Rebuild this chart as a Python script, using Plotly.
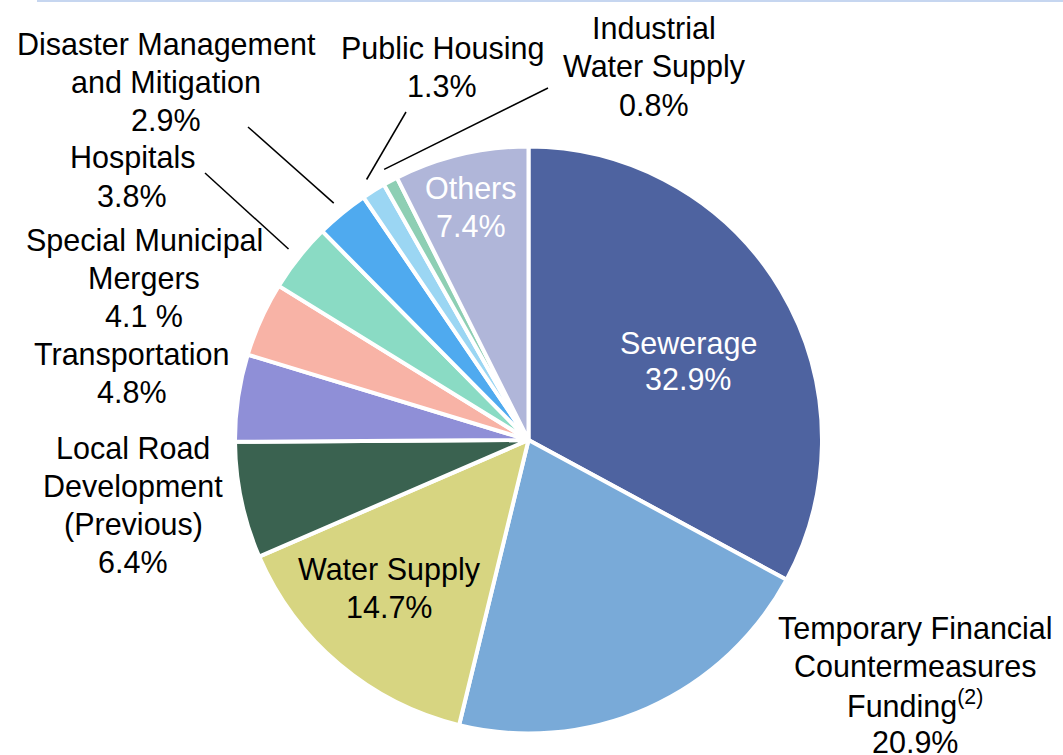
import math
import plotly.graph_objects as go

# ---- data ----
categories = [
    "Sewerage",
    "Temporary Financial Countermeasures Funding",
    "Water Supply",
    "Local Road Development (Previous)",
    "Transportation",
    "Special Municipal Mergers",
    "Hospitals",
    "Disaster Management and Mitigation",
    "Public Housing",
    "Industrial Water Supply",
    "Others",
]
values = [32.9, 20.9, 14.7, 6.4, 4.8, 4.1, 3.8, 2.9, 1.3, 0.8, 7.4]
label_lines = [
    ["Sewerage"],
    ["Temporary Financial", "Countermeasures", "Funding<sup>(2)</sup>"],
    ["Water Supply"],
    ["Local Road", "Development", "(Previous)"],
    ["Transportation"],
    ["Special Municipal", "Mergers"],
    ["Hospitals"],
    ["Disaster Management", "and Mitigation"],
    ["Public Housing"],
    ["Industrial", "Water Supply"],
    ["Others"],
]
pct_sep = ["", "", "", "", "", " ", "", "", "", "", ""]
colors = [
    "#4e63a0", "#79aad8", "#d7d581", "#3a6250", "#8f8fd7", "#f8b3a6",
    "#8adbc4", "#4faaef", "#9bd6f3", "#8ecfb4", "#b0b6d9",
]

# ---- layout geometry (pixels) ----
W, H = 1063, 755
CX, CY, R = 528.5, 440.0, 293.5
# label placement: (center x, first-line center y, line spacing, color, leader-anchor or None)
label_pos = [
    (688, 343, 36, "white", None),
    (915, 628, 38, "black", None),
    (389, 569, 38, "black", None),
    (133, 448, 38, "black", None),
    (132, 354, 38, "black", None),
    (144, 240, 38, "black", None),
    (132, 158, 38, "black", (205, 173)),
    (166, 45, 37.5, "black", (248, 127)),
    (442, 48, 38.5, "black", (406, 112)),
    (654, 28, 38.5, "black", (548, 88)),
    (471, 188, 37.5, "white", None),
]

def px(x):
    return x / W

def py(y):
    return 1 - y / H

fig = go.Figure(
    go.Pie(
        labels=categories,
        values=values,
        sort=False,
        direction="clockwise",
        rotation=0,
        marker=dict(colors=colors, line=dict(color="white", width=4)),
        textinfo="none",
        hoverinfo="label+percent",
        showlegend=False,
        domain=dict(x=[px(CX - R), px(CX + R)], y=[py(CY + R), py(CY - R)]),
    )
)

annotations = []
shapes = []
FONT = "Liberation Sans, Arial, sans-serif"
total = sum(values)
cum = 0.0
for i, v in enumerate(values):
    mid = (cum + v / 2) / total
    cum += v
    lx, ly, sp, col, anchor = label_pos[i]
    lines = label_lines[i] + [f"{v:.1f}{pct_sep[i]}%"]
    for k, t in enumerate(lines):
        annotations.append(dict(
            x=px(lx), y=py(ly + k * sp), xref="paper", yref="paper",
            text=t, showarrow=False, xanchor="center", yanchor="middle",
            font=dict(family=FONT, size=30.5, color=col),
        ))
    if anchor is not None:
        ang = 2 * math.pi * mid
        ex = CX + 1.045 * R * math.sin(ang)
        ey = CY - 1.045 * R * math.cos(ang)
        shapes.append(dict(
            type="line", xref="paper", yref="paper",
            x0=px(anchor[0]), y0=py(anchor[1]), x1=px(ex), y1=py(ey),
            line=dict(color="black", width=1.5),
        ))

# thin top rule
shapes.append(dict(type="line", xref="paper", yref="paper",
                   x0=px(37), y0=py(1), x1=1, y1=py(1),
                   line=dict(color="#c6d6f0", width=2)))

fig.update_layout(
    width=W, height=H,
    margin=dict(l=0, r=0, t=0, b=0),
    paper_bgcolor="white", plot_bgcolor="white",
    annotations=annotations, shapes=shapes,
    font=dict(family=FONT),
)

fig.write_html("out.html")
